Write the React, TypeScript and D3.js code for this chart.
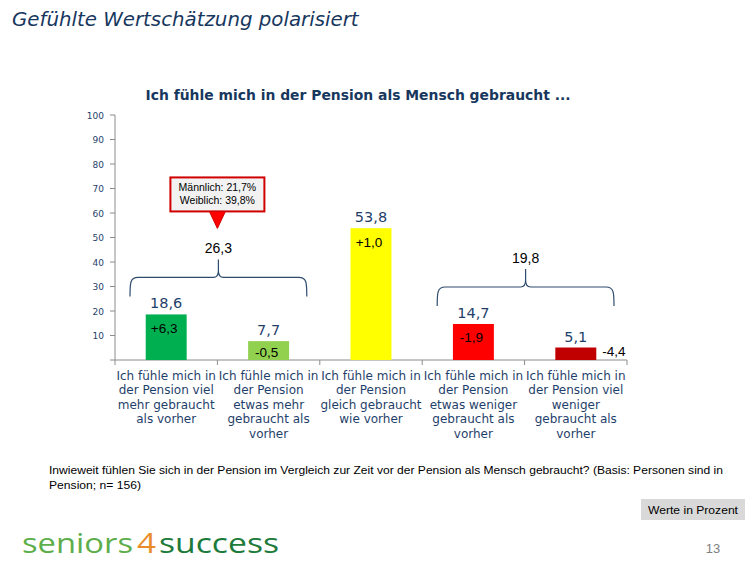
import React from "react";
import * as d3 from "d3";

const categories = ["viel mehr", "etwas mehr", "gleich", "etwas weniger", "viel weniger"];
const categoryLines = [
  ["Ich fühle mich in", "der Pension viel", "mehr gebraucht", "als vorher"],
  ["Ich fühle mich in", "der Pension", "etwas mehr", "gebraucht als", "vorher"],
  ["Ich fühle mich in", "der Pension", "gleich gebraucht", "wie vorher"],
  ["Ich fühle mich in", "der Pension", "etwas weniger", "gebraucht als", "vorher"],
  ["Ich fühle mich in", "der Pension viel", "weniger", "gebraucht als", "vorher"],
];
const values = [18.6, 7.7, 53.8, 14.7, 5.1];
const valueLabels = ["18,6", "7,7", "53,8", "14,7", "5,1"];
const changeLabels = ["+6,3", "-0,5", "+1,0", "-1,9", "-4,4"];
const barColors = ["#00B050", "#92D050", "#FFFF00", "#FF0000", "#C00000"];
const yTicks = [10, 20, 30, 40, 50, 60, 70, 80, 90, 100];
const groups = [
  { from: 0, to: 1, label: "26,3" },
  { from: 3, to: 4, label: "19,8" },
];
const calloutLines = ["Männlich: 21,7%", "Weiblich: 39,8%"];

const W = 745;
const H = 562;
const navy = "#1F3F6B";
const axisGrey = "#8C8C8C";

export default function App() {
  const y = d3.scaleLinear().domain([0, 100]).range([360, 115]);
  const x = d3
    .scaleBand<string>()
    .domain(categories)
    .range([115, 627])
    .paddingInner(0.6)
    .paddingOuter(0.3);
  const step = x.step();
  const catStart = (i: number) => 115 + i * step;

  const bracePath = (x0: number, x1: number, yEnd: number, yH: number, yPeak: number) => {
    const xm = (x0 + x1) / 2;
    return [
      `M${x0},${yEnd}`,
      `C${x0},${yH + 6} ${x0},${yH} ${x0 + 8},${yH}`,
      `L${xm - 5},${yH}`,
      `Q${xm},${yH} ${xm},${yH - 7}`,
      `L${xm},${yPeak}`,
      `M${xm},${yH - 7}`,
      `Q${xm},${yH} ${xm + 5},${yH}`,
      `L${x1 - 8},${yH}`,
      `C${x1},${yH} ${x1},${yH + 6} ${x1},${yEnd}`,
    ].join(" ");
  };

  return (
    <svg
      width={W}
      height={H}
      viewBox={`0 0 ${W} ${H}`}
      style={{ position: "absolute", left: 0, top: 0, background: "#fff" }}
    >
      {/* Slide title */}
      <text
        x={12}
        y={26}
        fontFamily="DejaVu Sans"
        fontStyle="italic"
        fontSize={19.8}
        fill="#17375E"
      >
        Gefühlte Wertschätzung polarisiert
      </text>

      {/* Chart title */}
      <text
        x={358}
        y={100}
        textAnchor="middle"
        fontFamily="DejaVu Sans"
        fontWeight="bold"
        fontSize={13.9}
        fill="#17375E"
      >
        Ich fühle mich in der Pension als Mensch gebraucht ...
      </text>

      {/* Y axis */}
      <line x1={115} x2={115} y1={y(100)} y2={y(0)} stroke={axisGrey} strokeWidth={1} />
      {[0, ...yTicks].map((t) => (
        <line key={"yt" + t} x1={110} x2={115} y1={y(t)} y2={y(t)} stroke={axisGrey} strokeWidth={1} />
      ))}
      {yTicks.map((t) => (
        <text
          key={"yl" + t}
          x={104}
          y={y(t) + 3.5}
          textAnchor="end"
          fontFamily="DejaVu Sans"
          fontSize={9}
          fill={navy}
        >
          {t}
        </text>
      ))}

      {/* X axis */}
      <line x1={115} x2={627} y1={y(0)} y2={y(0)} stroke={axisGrey} strokeWidth={1} />
      {d3.range(categories.length + 1).map((i) => (
        <line
          key={"xt" + i}
          x1={catStart(i)}
          x2={catStart(i)}
          y1={y(0)}
          y2={y(0) + 5}
          stroke={axisGrey}
          strokeWidth={1}
        />
      ))}

      {/* Bars */}
      {categories.map((c, i) => {
        const bx = x(c)!;
        const bw = x.bandwidth();
        const top = y(values[i]);
        const cx = bx + bw / 2;
        const inside = y(0) - top > 16;
        return (
          <g key={c}>
            <rect x={bx} y={top} width={bw} height={y(0) - top} fill={barColors[i]} />
            <text
              x={cx}
              y={top - 6}
              textAnchor="middle"
              fontFamily="DejaVu Sans"
              fontSize={14.5}
              fill={navy}
            >
              {valueLabels[i]}
            </text>
            {inside ? (
              <text
                x={cx - 2}
                y={Math.min(top + 18.5, y(0) - 3)}
                textAnchor="middle"
                fontFamily="Liberation Sans"
                fontSize={13.5}
                fill="#000"
              >
                {changeLabels[i]}
              </text>
            ) : (
              <text
                x={bx + bw + 6}
                y={y(0) - 4}
                textAnchor="start"
                fontFamily="Liberation Sans"
                fontSize={13.5}
                fill="#000"
              >
                {changeLabels[i]}
              </text>
            )}
          </g>
        );
      })}

      {/* Category labels */}
      {categories.map((c, i) => {
        const cx = catStart(i) + step / 2;
        return (
          <text
            key={"cl" + c}
            textAnchor="middle"
            fontFamily="DejaVu Sans"
            fontSize={12}
            fill={navy}
          >
            {categoryLines[i].map((ln, j) => (
              <tspan key={j} x={cx} y={379.5 + j * 14.6}>
                {ln}
              </tspan>
            ))}
          </text>
        );
      })}

      {/* Braces */}
      {groups.map((g, gi) => {
        const x0 = catStart(g.from) + 15;
        const x1 = catStart(g.to + 1) - 13;
        const maxV = d3.max(values.slice(g.from, g.to + 1))!;
        const yEnd = y(maxV) - 18;
        const yH = yEnd - 19;
        const yPeak = yH - 18;
        const xm = (x0 + x1) / 2;
        return (
          <g key={"br" + gi}>
            <path
              d={bracePath(x0, x1, yEnd, yH, yPeak)}
              fill="none"
              stroke="#2E4B6E"
              strokeWidth={1.2}
            />
            <text
              x={xm}
              y={yPeak - 6}
              textAnchor="middle"
              fontFamily="Liberation Sans"
              fontSize={14}
              fill="#000"
            >
              {g.label}
            </text>
            {gi === 0 && (
              <g>
                <rect
                  x={xm - 48}
                  y={yPeak - 82}
                  width={94}
                  height={34}
                  fill="#F2F2F2"
                  stroke="#D00000"
                  strokeWidth={2}
                />
                <path
                  d={`M${xm - 9},${yPeak - 48} L${xm + 7},${yPeak - 48} L${xm - 1},${yPeak - 31} Z`}
                  fill="#FF0000"
                  stroke="#D00000"
                  strokeWidth={1}
                />
                {calloutLines.map((ln, j) => (
                  <text
                    key={j}
                    x={xm - 1}
                    y={yPeak - 68 + j * 13}
                    textAnchor="middle"
                    fontFamily="Liberation Sans"
                    fontSize={10.5}
                    fill="#000"
                  >
                    {ln}
                  </text>
                ))}
              </g>
            )}
          </g>
        );
      })}

      {/* Footnote */}
      <text x={49} y={474} fontFamily="Liberation Sans" fontSize={11} fill="#000" textLength={674} lengthAdjust="spacingAndGlyphs">
        Inwieweit fühlen Sie sich in der Pension im Vergleich zur Zeit vor der Pension als Mensch gebraucht? (Basis: Personen sind in
      </text>
      <text x={49} y={489} fontFamily="Liberation Sans" fontSize={11} fill="#000" textLength={92} lengthAdjust="spacingAndGlyphs">
        Pension; n= 156)
      </text>

      {/* Werte in Prozent */}
      <rect x={641} y={499} width={104} height={21} fill="#D9D9D9" />
      <text x={693} y={513.5} textAnchor="middle" fontFamily="Liberation Sans" fontSize={11} fill="#000" textLength={90} lengthAdjust="spacingAndGlyphs">
        Werte in Prozent
      </text>

      {/* Logo */}
      <text x={22} y={553} fontFamily="Open Sans" fontSize={28} fill="#5DAE4B" textLength={111} lengthAdjust="spacingAndGlyphs">
        seniors
      </text>
      <text x={137} y={553} fontFamily="Open Sans" fontSize={28} fill="#E98B2A" textLength={19} lengthAdjust="spacingAndGlyphs">
        4
      </text>
      <text x={159} y={553} fontFamily="Open Sans" fontSize={28} fill="#1C7A3A" textLength={120} lengthAdjust="spacingAndGlyphs">
        success
      </text>

      {/* Page number */}
      <text x={713} y={553} textAnchor="middle" fontFamily="Liberation Sans" fontSize={13} fill="#808080">
        13
      </text>
    </svg>
  );
}
